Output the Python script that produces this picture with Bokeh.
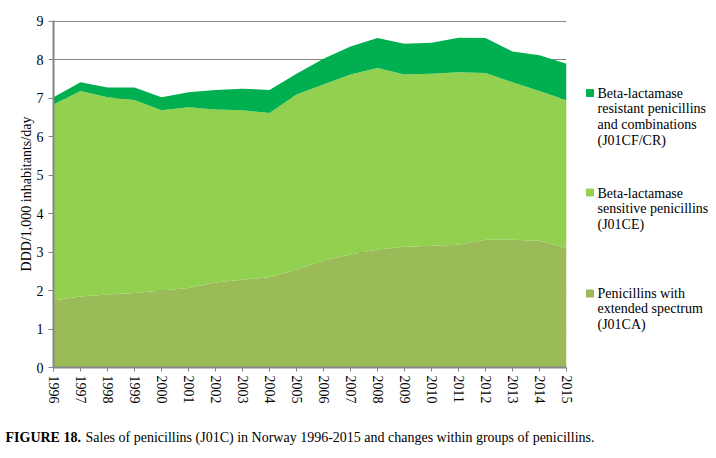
from bokeh.plotting import figure
from bokeh.layouts import column, row
from bokeh.models import ColumnDataSource, Range1d, FixedTicker
from bokeh.core.properties import value
from bokeh.embed import file_html
from bokeh.resources import INLINE

years = list(range(1996, 2016))
# Penicillins with extended spectrum (J01CA)
j01ca = [1.74, 1.85, 1.90, 1.94, 2.00, 2.07, 2.21, 2.28, 2.35, 2.54,
         2.78, 2.94, 3.07, 3.14, 3.17, 3.19, 3.32, 3.32, 3.30, 3.11]
# Beta-lactamase sensitive penicillins (J01CE)
j01ce = [5.10, 5.34, 5.13, 5.02, 4.69, 4.70, 4.50, 4.41, 4.27, 4.56,
         4.58, 4.68, 4.72, 4.48, 4.47, 4.49, 4.34, 4.10, 3.89, 3.84]
# Beta-lactamase resistant penicillins and combinations (J01CF/CR)
j01cf = [0.19, 0.23, 0.25, 0.32, 0.34, 0.39, 0.51, 0.56, 0.60, 0.54,
         0.67, 0.73, 0.78, 0.80, 0.81, 0.90, 0.91, 0.80, 0.93, 0.95]

y_ticks = list(range(0, 10))
series = ["j01ca", "j01ce", "j01cf"]
colors = ["#9BBB59", "#92D050", "#00B050"]
legend_labels = [
    "Beta-lactamase\nresistant penicillins\nand combinations\n(J01CF/CR)",
    "Beta-lactamase\nsensitive penicillins\n(J01CE)",
    "Penicillins with\nextended spectrum\n(J01CA)",
]
legend_colors = ["#00B050", "#92D050", "#9BBB59"]
caption_bold = "FIGURE 18."
caption_text = "Sales of penicillins (J01C) in Norway 1996-2015 and changes within groups of penicillins."

FONT = "Liberation Serif"
GRAY = "#868686"

source = ColumnDataSource(dict(year=years, j01ca=j01ca, j01ce=j01ce, j01cf=j01cf))

# ---------------- main chart ----------------
p = figure(width=576, height=420, output_backend="svg", toolbar_location=None,
           x_range=Range1d(1996, 2015), y_range=Range1d(0, 9.026),
           min_border_left=53, min_border_right=10, min_border_top=20,
           min_border_bottom=53)
p.outline_line_color = None
p.background_fill_color = "white"

p.varea_stack(series, x="year", source=source, color=colors)

p.xgrid.visible = False
p.ygrid.ticker = FixedTicker(ticks=y_ticks)
p.ygrid.grid_line_color = GRAY
p.ygrid.grid_line_width = 1

p.yaxis.ticker = FixedTicker(ticks=y_ticks)
p.xaxis.ticker = FixedTicker(ticks=years)
p.xaxis.major_label_orientation = "vertical"
for ax in (p.xaxis[0], p.yaxis[0]):
    ax.axis_line_color = GRAY
    ax.axis_line_width = 2
    ax.major_tick_line_color = GRAY
    ax.major_tick_in = 0
    ax.minor_tick_line_color = None
    ax.major_label_text_font = FONT
    ax.major_label_text_font_size = "14px"
    ax.major_label_text_color = "black"
p.yaxis.major_tick_out = 5
p.yaxis.major_label_standoff = 5
p.xaxis.major_tick_out = 4
p.xaxis.major_label_standoff = 4
p.yaxis.axis_label = "DDD/1,000 inhabitants/day"
p.yaxis.axis_label_text_font = FONT
p.yaxis.axis_label_text_font_size = "14px"
p.yaxis.axis_label_text_font_style = "normal"
p.yaxis.axis_label_text_color = "black"
p.yaxis.axis_label_standoff = 0

# ---------------- legend panel (frame aligned with chart frame) ----------------
lg = figure(width=140, height=420, output_backend="svg", toolbar_location=None,
            x_range=Range1d(0, 140), y_range=Range1d(367, 20),
            x_axis_type=None, y_axis_type=None, min_border=0)
lg.outline_line_color = None
lg.xgrid.visible = False
lg.ygrid.visible = False
leg_src = ColumnDataSource(dict(
    label=legend_labels, color=legend_colors,
    sq_x=[13.5, 13.5, 13.5], sq_y=[92.5, 192, 293],
    tx=[21, 21, 21], ty=[85, 185, 285]))
lg.rect(x="sq_x", y="sq_y", width=7, height=7, color="color", source=leg_src)
lg.text(x="tx", y="ty", text="label", source=leg_src, text_font=value(FONT),
        text_font_size="14px", text_baseline="top", text_align="left",
        text_line_height=1.065, text_color="black")

# ---------------- caption ----------------
cap = figure(width=716, height=38, output_backend="svg", toolbar_location=None,
             x_range=Range1d(0, 716), y_range=Range1d(38, 0),
             x_axis_type=None, y_axis_type=None, min_border=0)
cap.outline_line_color = None
cap.xgrid.visible = False
cap.ygrid.visible = False
cap.text(x=[5], y=[17], text=[caption_bold], text_font=value(FONT),
         text_font_size="14px", text_font_style="bold", text_baseline="middle",
         text_color="black")
cap.text(x=[85], y=[17], text=[caption_text], text_font=value(FONT),
         text_font_size="14px", text_baseline="middle", text_color="black")

layout = column(row(p, lg, spacing=0), cap, spacing=0)
open("out.html", "w").write(file_html(layout, INLINE))
